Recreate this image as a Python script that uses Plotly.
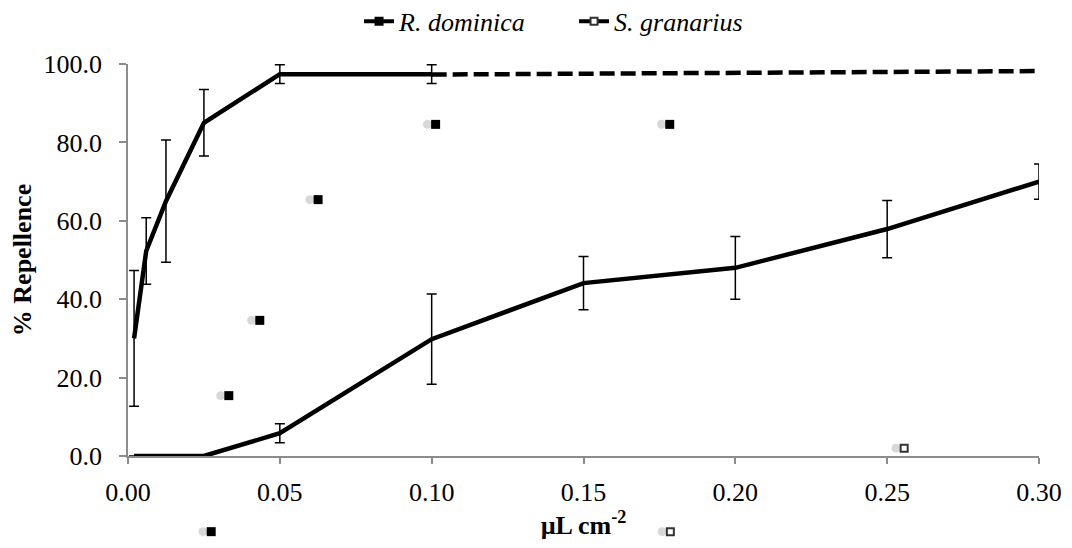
import plotly.graph_objects as go

# ---- data ----
conc_rd = [0.002, 0.006, 0.0125, 0.025, 0.05, 0.10]
rep_rd = [30.0, 52.3, 65.0, 85.0, 97.4, 97.4]
err_rd = [17.3, 8.5, 15.6, 8.5, 2.4, 2.4]

conc_sg = [0.002, 0.006, 0.0125, 0.025, 0.05, 0.10, 0.15, 0.20, 0.25, 0.30]
rep_sg = [0.0, 0.0, 0.0, 0.0, 5.8, 29.8, 44.1, 48.0, 57.9, 70.0]
err_sg = [0.0, 0.0, 0.0, 0.0, 2.4, 11.5, 6.8, 8.0, 7.3, 4.5]

trend_x = [0.10, 0.30]
trend_y = [97.3, 98.2]

# stray marker glyphs visible in the picture (filled = R. dominica, open = S. granarius)
stray_rd_x = [0.1013, 0.1784, 0.0626, 0.0434, 0.0332, 0.0274]
stray_rd_y = [84.6, 84.6, 65.4, 34.6, 15.4, -19.3]
stray_sg_x = [0.1786, 0.2556]
stray_sg_y = [-19.3, 2.0]

x_ticks = [0.00, 0.05, 0.10, 0.15, 0.20, 0.25, 0.30]
y_ticks = [0, 20, 40, 60, 80, 100]

FONT = "Liberation Serif"
shadow_dx = 0.0027

# the page body adds an 8px offset, so the figure is sized to fit the window after it
W, H = 1064, 532
H_TOP, H_BOT = 56, 530           # plot-area top / bottom in figure px
Y_ZERO = 448                     # figure px of y = 0
d = (H_BOT - Y_ZERO) / (H_BOT - H_TOP)
y2_low = -100 * d / (1 - d)

tickfont = dict(family=FONT, size=26, color="black")
titlefont = dict(family=FONT, size=26, color="black", weight="bold")

fig = go.Figure()

fig.add_trace(go.Scatter(
    x=[v - shadow_dx for v in stray_rd_x + stray_sg_x], y=stray_rd_y + stray_sg_y,
    yaxis="y2", mode="markers",
    marker=dict(symbol="circle", size=9, color="rgba(190,190,190,0.6)"),
    showlegend=False, hoverinfo="skip"))

fig.add_trace(go.Scatter(
    x=conc_rd, y=rep_rd, mode="lines", line=dict(color="black", width=4.5),
    error_y=dict(type="data", array=err_rd, color="black", thickness=1.5, width=5),
    showlegend=False))
fig.add_trace(go.Scatter(
    x=conc_sg, y=rep_sg, mode="lines", line=dict(color="black", width=4.5),
    error_y=dict(type="data", array=err_sg, color="black", thickness=1.5, width=5),
    showlegend=False, cliponaxis=False))
fig.add_trace(go.Scatter(
    x=trend_x, y=trend_y, mode="lines",
    line=dict(color="black", width=4.5, dash="15px,6px"), showlegend=False))

fig.add_trace(go.Scatter(
    x=stray_rd_x, y=stray_rd_y, yaxis="y2", mode="markers",
    marker=dict(symbol="square", size=9, color="black"),
    showlegend=False))
fig.add_trace(go.Scatter(
    x=stray_sg_x, y=stray_sg_y, yaxis="y2", mode="markers",
    marker=dict(symbol="square", size=7, color="white", line=dict(color="#333", width=2)),
    showlegend=False))

# legend entries
fig.add_trace(go.Scatter(
    x=[None], y=[None], mode="lines+markers", name="R. dominica",
    line=dict(color="black", width=4),
    marker=dict(symbol="square", size=9, color="black")))
fig.add_trace(go.Scatter(
    x=[None], y=[None], mode="lines+markers", name="S. granarius",
    line=dict(color="black", width=4),
    marker=dict(symbol="square", size=7, color="white", line=dict(color="#333", width=2))))

fig.update_layout(
    template="none",
    width=W, height=H,
    margin=dict(l=120, r=33, t=H_TOP, b=H - H_BOT, autoexpand=False),
    paper_bgcolor="white", plot_bgcolor="rgba(0,0,0,0)",
    font=dict(family=FONT, size=26, color="black"),
    showlegend=True,
    legend=dict(orientation="h", xref="container", yref="container",
                x=0.532, xanchor="center", y=0.975, yanchor="middle",
                font=dict(family=FONT, size=26, color="black", style="italic"),
                itemwidth=30, tracegroupgap=0, entrywidth=170),
    xaxis=dict(range=[0, 0.30], tickvals=x_ticks, tickformat=".2f", tickfont=tickfont,
               showgrid=False, zeroline=False, anchor="y",
               showline=True, linecolor="#8c8c8c", linewidth=1.5,
               ticks="outside", ticklen=6, tickcolor="#8c8c8c", tickwidth=1.5,
               ticklabelstandoff=6, automargin=False,
               title=dict(text="µL cm<sup>-2</sup>", font=titlefont, standoff=23)),
    yaxis=dict(range=[0, 100], domain=[d, 1], tickvals=y_ticks, tickformat=".1f",
               tickfont=tickfont,
               showgrid=False, zeroline=False, anchor="x",
               showline=True, linecolor="#8c8c8c", linewidth=1.5,
               ticks="outside", ticklen=7, tickcolor="#8c8c8c", tickwidth=1.5,
               ticklabelstandoff=12, automargin=False,
               title=dict(text="% Repellence", font=titlefont, standoff=5)),
    yaxis2=dict(range=[y2_low, 100], domain=[0, 1], anchor="free", position=0,
                visible=False, showgrid=False, zeroline=False),
)

fig.write_html("out.html")
